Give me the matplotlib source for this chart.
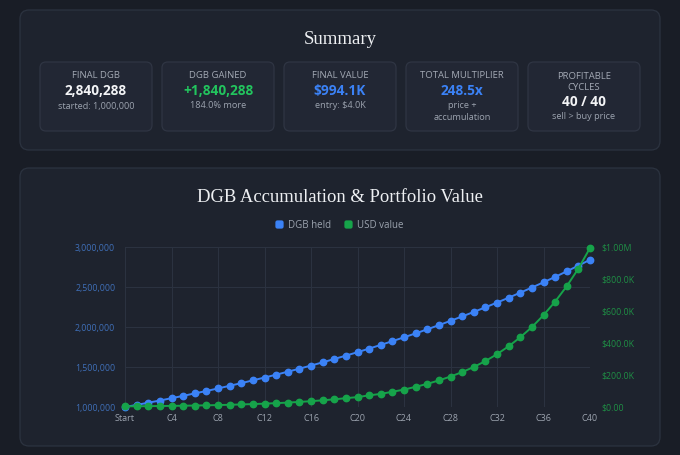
import matplotlib
matplotlib.use("Agg")
import matplotlib.pyplot as plt
from matplotlib.patches import FancyBboxPatch
from matplotlib.ticker import FuncFormatter

# ---- data ----
cycles = ["Start"] + ["C%d" % i for i in range(1, 41)]
dgb_held = [1000000, 1026000, 1054000, 1081000, 1110000, 1139000, 1170000, 1200000,
            1232000, 1265000, 1298000, 1333000, 1368000, 1404000, 1441000, 1479000,
            1518000, 1558000, 1600000, 1642000, 1685000, 1730000, 1776000, 1823000,
            1871000, 1920000, 1971000, 2023000, 2077000, 2132000, 2188000, 2246000,
            2305000, 2366000, 2429000, 2493000, 2559000, 2626000, 2696000, 2767000,
            2840288]
usd_value = [4.0, 4.6, 5.3, 6.1, 6.9, 8.0, 9.2, 10.5, 12.1, 13.9, 15.9, 18.3, 21.0,
             24.1, 27.6, 31.7, 36.4, 41.8, 48.0, 55.1, 62.0, 72.6, 82.0, 95.0, 109.0,
             126.0, 144.6, 166.0, 190.5, 218.0, 250.0, 287.0, 330.0, 379.5, 435.6,
             499.0, 573.9, 658.8, 755.0, 865.0, 994.1]
usd_value = [v * 1000 for v in usd_value]

card_labels = ["FINAL DGB", "DGB GAINED", "FINAL VALUE", "TOTAL MULTIPLIER", "PROFITABLE\nCYCLES"]
card_values = ["2,840,288", "+1,840,288", "$994.1K", "248.5x", "40 / 40"]
card_notes = ["started: 1,000,000", "184.0% more", "entry: $4.0K", "price +\naccumulation", "sell > buy price"]
card_colors = ["#f3f4f6", "#22c55e", "#3b82f6", "#3b82f6", "#f3f4f6"]

BG = "#191d26"
PANEL = "#1e232e"
PANEL_EDGE = "#2c3340"
CARD = "#222734"
CARD_EDGE = "#2f3543"
BLUE = "#3b82f6"
GREEN = "#16a34a"
SANS = ["Open Sans", "DejaVu Sans"]
SERIF = ["Liberation Serif", "DejaVu Serif"]

fig = plt.figure(figsize=(6.8, 4.55), dpi=100)
fig.patch.set_facecolor(BG)

# pixel-space background axes for panels and cards
bg = fig.add_axes([0, 0, 1, 1])
bg.set_xlim(0, 680)
bg.set_ylim(455, 0)
bg.axis("off")


def rbox(x0, y0, x1, y1, r, fc, ec):
    p = FancyBboxPatch((x0, y0), x1 - x0, y1 - y0,
                       boxstyle="round,pad=0,rounding_size=%g" % r,
                       fc=fc, ec=ec, lw=0.9)
    bg.add_patch(p)


rbox(20, 10, 660, 150, 9, PANEL, PANEL_EDGE)
rbox(20, 168, 660, 446, 9, PANEL, PANEL_EDGE)

bg.text(340, 40, "Summary", ha="center", va="center", fontsize=13.5,
        color="#eef0f3", family=SERIF)

LABEL_C = "#a3a9b4"
NOTE_C = "#9ca3af"
card_x = [40, 162, 284, 406, 528]
for i in range(5):
    x0 = card_x[i]
    rbox(x0, 62, x0 + 112, 131, 6, CARD, CARD_EDGE)
    cx = x0 + 56
    if "\n" in card_labels[i]:
        bg.text(cx, 82, card_labels[i], ha="center", va="center", fontsize=6.8,
                color=LABEL_C, family=SANS, linespacing=1.3)
        bg.text(cx, 101.5, card_values[i], ha="center", va="center", fontsize=9.8,
                fontweight="bold", color=card_colors[i], family=SANS)
        bg.text(cx, 116.5, card_notes[i], ha="center", va="center", fontsize=6.6,
                color=NOTE_C, family=SANS)
    elif "\n" in card_notes[i]:
        bg.text(cx, 76, card_labels[i], ha="center", va="center", fontsize=6.8,
                color=LABEL_C, family=SANS)
        bg.text(cx, 91, card_values[i], ha="center", va="center", fontsize=9.8,
                fontweight="bold", color=card_colors[i], family=SANS)
        bg.text(cx, 111.5, card_notes[i], ha="center", va="center", fontsize=6.6,
                color=NOTE_C, family=SANS, linespacing=1.3)
    else:
        bg.text(cx, 76, card_labels[i], ha="center", va="center", fontsize=6.8,
                color=LABEL_C, family=SANS)
        bg.text(cx, 91, card_values[i], ha="center", va="center", fontsize=9.8,
                fontweight="bold", color=card_colors[i], family=SANS)
        bg.text(cx, 106, card_notes[i], ha="center", va="center", fontsize=6.6,
                color=NOTE_C, family=SANS)

bg.text(340, 198, "DGB Accumulation & Portfolio Value", ha="center", va="center",
        fontsize=13.4, color="#eef0f3", family=SERIF)

# legend
rbox(276, 221, 283, 228, 1.5, BLUE, BLUE)
bg.text(288, 225, "DGB held", ha="left", va="center", fontsize=7, color=NOTE_C, family=SANS)
rbox(345, 221, 352, 228, 1.5, GREEN, GREEN)
bg.text(357, 225, "USD value", ha="left", va="center", fontsize=7, color=NOTE_C, family=SANS)

# chart
ax = fig.add_axes([125 / 680, 1 - 407 / 455, 465 / 680, 160 / 455])
ax.set_facecolor("none")
x = list(range(len(cycles)))
ax.plot(x, dgb_held, color=BLUE, lw=1.4, marker="o", ms=4.6, clip_on=False, zorder=4)
ax.set_xlim(0, 40)
ax.set_ylim(1000000, 3000000)
ax.set_yticks([1000000, 1500000, 2000000, 2500000, 3000000])
ax.yaxis.set_major_formatter(FuncFormatter(lambda v, p: "{:,.0f}".format(v)))
ax.set_xticks(x[::4])
ax.set_xticklabels(cycles[::4])
ax.grid(True, color="#2b3240", lw=0.8)
ax.set_axisbelow(True)
for s in ax.spines.values():
    s.set_visible(False)
ax.tick_params(axis="y", colors="#3f6fb8", labelsize=6.3, length=0, pad=7)
ax.tick_params(axis="x", colors=NOTE_C, labelsize=6.5, length=0, pad=5)
for t in ax.get_xticklabels():
    t.set_family(SANS)
for t in ax.get_yticklabels():
    t.set_family(SANS)

ax2 = ax.twinx()
ax2.plot(x, usd_value, color=GREEN, lw=1.4, marker="o", ms=4.6, clip_on=False, zorder=3)
ax2.set_ylim(0, 1000000)
ax2.set_yticks([0, 200000, 400000, 600000, 800000, 1000000])
ax2.yaxis.set_major_formatter(FuncFormatter(
    lambda v, p: "$1.00M" if v >= 1e6 else ("$0.00" if v == 0 else "${:.1f}K".format(v / 1000))))
for s in ax2.spines.values():
    s.set_visible(False)
ax2.tick_params(axis="y", colors="#1f8f45", labelsize=6.3, length=0, pad=8)
for t in ax2.get_yticklabels():
    t.set_family(SANS)

fig.savefig("out.png", dpi=100, facecolor=BG)
